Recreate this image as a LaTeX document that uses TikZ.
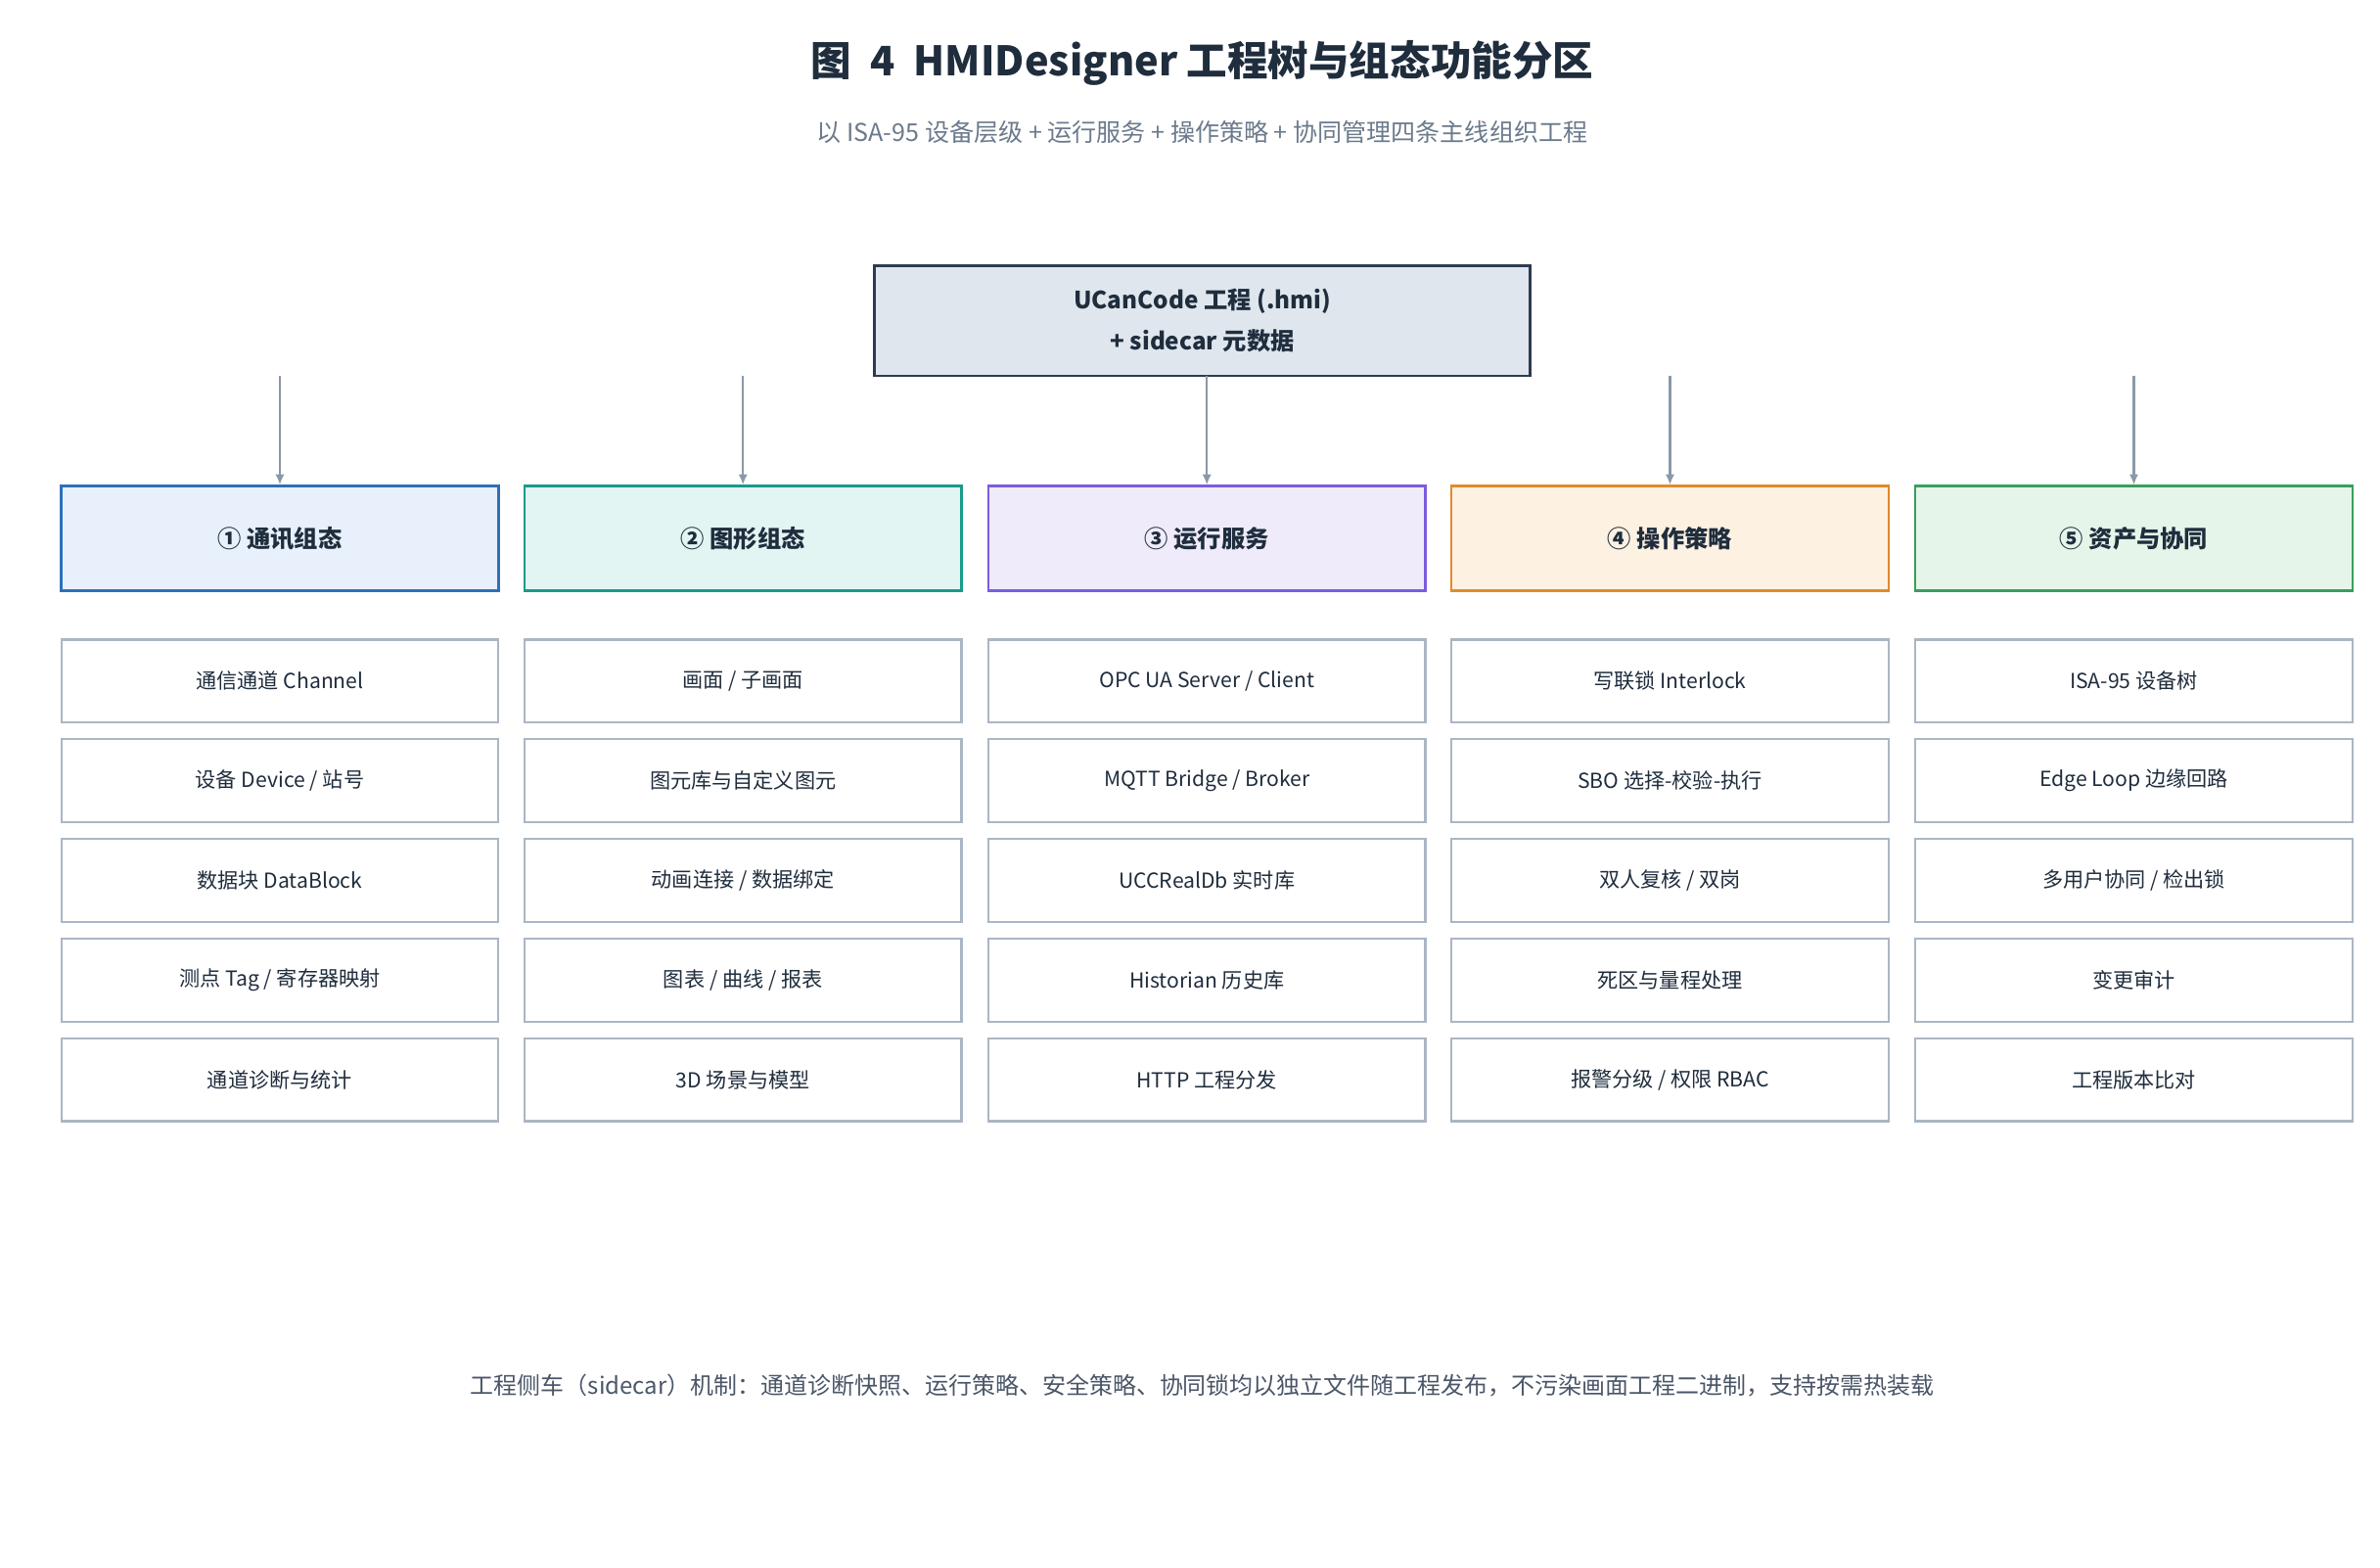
\documentclass[tikz,border=0pt]{standalone}
\usepackage{fontspec}
\setmainfont{Noto Sans CJK SC}
\usetikzlibrary{arrows.meta}
\definecolor{ttl}{HTML}{1F2D3D}
\definecolor{sub}{HTML}{6B7A8C}
\definecolor{rootf}{HTML}{DFE6EE}
\definecolor{rootd}{HTML}{2D3B4F}
\definecolor{arr}{HTML}{8A99A8}
\definecolor{itemd}{HTML}{AAB6C4}
\definecolor{cAd}{HTML}{2F6FBA}\definecolor{cAf}{HTML}{E8F0FB}
\definecolor{cBd}{HTML}{1A9A8A}\definecolor{cBf}{HTML}{E3F5F3}
\definecolor{cCd}{HTML}{7B5CE0}\definecolor{cCf}{HTML}{EFEBFB}
\definecolor{cDd}{HTML}{E08A2C}\definecolor{cDf}{HTML}{FDF1E2}
\definecolor{cEd}{HTML}{3A9E5C}\definecolor{cEf}{HTML}{E5F5E9}
\definecolor{foot}{HTML}{4A5668}
\begin{document}
\begin{tikzpicture}[x=1pt,y=-1pt,
 cat/.style={draw=#1d,fill=#1f,line width=1.6pt,minimum width=285pt,minimum height=68pt,font=\fontsize{15.5}{18}\selectfont\bfseries,text=ttl},
 item/.style={draw=itemd,fill=white,line width=1.4pt,minimum width=285pt,minimum height=54pt,font=\fontsize{13.5}{16}\selectfont,text=ttl},
 ar/.style={draw=arr,line width=1.4pt,-{Latex[length=7pt,width=6pt]}}]
\useasboundingbox (0,0) rectangle (1552,1022);
\node[font=\fontsize{26.5}{30}\selectfont\bfseries,text=ttl] (title) at (784,41) {图\ \ 4\ \ HMIDesigner 工程树与组态功能分区};
\node[font=\fontsize{16}{19}\selectfont,text=sub] (subt) at (784,86) {以 ISA-95 设备层级 + 运行服务 + 操作策略 + 协同管理四条主线组织工程};
\node[draw=rootd,fill=rootf,line width=1.8pt,minimum width=428pt,minimum height=72pt,align=center,font=\fontsize{15.5}{27}\selectfont\bfseries,text=ttl] (root) at (784,209) {UCanCode 工程 (.hmi)\\+ sidecar 元数据};
\foreach \i/\x/\c/\t in {1/182.5/cA/① 通讯组态,2/484.5/cB/② 图形组态,3/787/cC/③ 运行服务,4/1089/cD/④ 操作策略,5/1391.5/cE/⑤ 资产与协同}{
 \node[cat=\c] (c\i) at (\x,351) {\t};
 \coordinate (s\i) at (\x,245);
 \draw[ar] (s\i) -- (c\i.north);
}
\foreach \i/\x in {1/182.5,2/484.5,3/787,4/1089,5/1391.5}{
 \foreach \j/\y in {1/444,2/509,3/574,4/639,5/704}{
  \coordinate (p\i\j) at (\x,\y);
 }
}
\foreach \i/\l in {1/{通信通道 Channel,设备 Device / 站号,数据块 DataBlock,测点 Tag / 寄存器映射,通道诊断与统计},
 2/{画面 / 子画面,图元库与自定义图元,动画连接 / 数据绑定,图表 / 曲线 / 报表,3D 场景与模型},
 3/{OPC UA Server / Client,MQTT Bridge / Broker,UCCRealDb 实时库,Historian 历史库,HTTP 工程分发},
 4/{写联锁 Interlock,SBO 选择-校验-执行,双人复核 / 双岗,死区与量程处理,报警分级 / 权限 RBAC},
 5/{ISA-95 设备树,Edge Loop 边缘回路,多用户协同 / 检出锁,变更审计,工程版本比对}}{
 \foreach \t [count=\j] in \l { \node[item] (i\i\j) at (p\i\j) {\t}; }
}
\node[font=\fontsize{15.3}{18}\selectfont,text=foot] (ft) at (784,903) {工程侧车（sidecar）机制：通道诊断快照、运行策略、安全策略、协同锁均以独立文件随工程发布，不污染画面工程二进制，支持按需热装载};
\end{tikzpicture}
\end{document}
